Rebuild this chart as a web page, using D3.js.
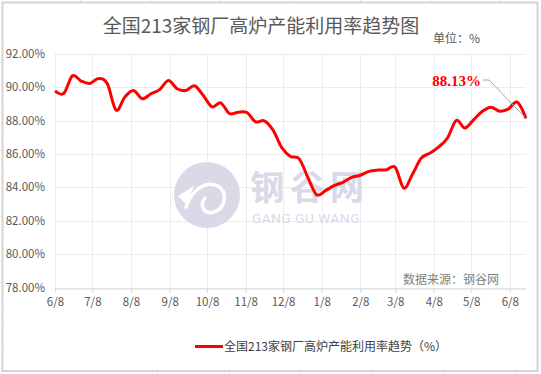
<!DOCTYPE html>
<html>
<head>
<meta charset="utf-8">
<script src="https://cdn.jsdelivr.net/npm/d3@7"></script>
<style>
  html, body { margin: 0; padding: 0; background: #fff; }
  svg { display: block; font-family: "Noto Sans CJK SC", "Noto Sans", sans-serif; }
</style>
</head>
<body>
<svg id="chart"></svg>
<script>
// weekly dates and utilization (%)
const weekDates = [
  "2022-06-08", "2022-06-15", "2022-06-22", "2022-06-29", "2022-07-06", "2022-07-13", "2022-07-20", "2022-07-27",
  "2022-08-03", "2022-08-10", "2022-08-17", "2022-08-24", "2022-08-31", "2022-09-07", "2022-09-14", "2022-09-21",
  "2022-09-28", "2022-10-05", "2022-10-12", "2022-10-19", "2022-10-26", "2022-11-02", "2022-11-09", "2022-11-16",
  "2022-11-23", "2022-11-30", "2022-12-07", "2022-12-14", "2022-12-21", "2022-12-28", "2023-01-04", "2023-01-11",
  "2023-01-18", "2023-01-25", "2023-02-01", "2023-02-08", "2023-02-15", "2023-02-22", "2023-03-01", "2023-03-08",
  "2023-03-15", "2023-03-22", "2023-03-29", "2023-04-05", "2023-04-12", "2023-04-19", "2023-04-26", "2023-05-03",
  "2023-05-10", "2023-05-17", "2023-05-24", "2023-05-31", "2023-06-07", "2023-06-14", "2023-06-21"
];

const utilization = [
  89.78, 89.62, 90.68, 90.36, 90.22, 90.52, 90.2, 88.62,
  89.4, 89.8, 89.3, 89.6, 89.85, 90.4, 89.9, 89.8,
  90.08, 89.5, 88.82, 89.06, 88.42, 88.5, 88.48, 87.92,
  87.98, 87.42, 86.38, 85.85, 85.7, 84.58, 83.55, 83.8,
  84.1, 84.3, 84.6, 84.72, 84.95, 85.03, 85.05, 85.2,
  83.95, 84.8, 85.75, 86.05, 86.42, 86.95, 88.0, 87.55,
  88.05, 88.55, 88.8, 88.55, 88.7, 89.1, 88.13
];

const monthTicks = [
  "2022-06-08", "2022-07-08", "2022-08-08", "2022-09-08", "2022-10-08", "2022-11-08", "2022-12-08",
  "2023-01-08", "2023-02-08", "2023-03-08", "2023-04-08", "2023-05-08", "2023-06-08"
];

const yTicks = [78, 80, 82, 84, 86, 88, 90, 92];

const chartTitle = "全国213家钢厂高炉产能利用率趋势图";
const seriesName = "全国213家钢厂高炉产能利用率趋势（%）";

const lineChart = (function () {
  const lc = {};

  lc.draw = function (svgId) {
    const width = 541, height = 374;
    const svg = d3.select(`#${svgId}`)
      .attr('width', width)
      .attr('height', height);

    const parse = d3.timeParse("%Y-%m-%d");
    const data = weekDates.map((d, i) => ({ date: parse(d), value: utilization[i] }));

    // spreadsheet cell lines peeking around the chart
    const cells = svg.append("g").attr("stroke", "#e3e3e3").attr("stroke-width", 1);
    [80, 150, 220, 290, 360, 430, 500].forEach(x =>
      cells.append("line").attr("x1", x + 0.5).attr("x2", x + 0.5).attr("y1", 0).attr("y2", 2));
    [157, 229, 300, 372, 444, 516].forEach(x =>
      cells.append("line").attr("x1", x + 0.5).attr("x2", x + 0.5).attr("y1", 372).attr("y2", 374));
    [40, 62, 84, 106, 128, 150, 172, 194, 216, 238, 260, 282, 304, 326, 348].forEach(y =>
      cells.append("line").attr("x1", 0).attr("x2", 1).attr("y1", y + 0.5).attr("y2", y + 0.5));

    // chart frame
    svg.append("rect")
      .attr("x", 2.5).attr("y", 2.5)
      .attr("width", 535).attr("height", 368.5)
      .attr("fill", "#fff")
      .attr("stroke", "#d4d4d4")
      .attr("stroke-width", 2);

    const xScale = d3.scaleTime()
      .domain(d3.extent(data, d => d.date))
      .range([55, 526]);

    const yScale = d3.scaleLinear()
      .domain([78, 92])
      .range([287.5, 53.7]);

    // grid
    const grid = svg.append("g").attr("stroke", "#ececec").attr("stroke-width", 1);
    yTicks.forEach(t => {
      const y = Math.round(yScale(t)) + 0.5;
      grid.append("line").attr("x1", 55).attr("x2", 526).attr("y1", y).attr("y2", y);
    });
    monthTicks.forEach(t => {
      const x = Math.round(xScale(parse(t))) + 0.5;
      grid.append("line").attr("x1", x).attr("x2", x).attr("y1", yScale(92)).attr("y2", yScale(78));
    });

    // watermark
    const wm = svg.append("g").attr("fill", "#d9d9e8");
    wm.append("circle").attr("cx", 207).attr("cy", 195).attr("r", 33);
    wm.append("path")
      .attr("fill", "none").attr("stroke", "#fff").attr("stroke-width", 3.5)
      .attr("stroke-linecap", "round")
      .attr("d", "M186,207 C192,190 205,180 218,186 C228,192 226,208 214,212 C204,215 199,205 205,198");
    wm.append("path")
      .attr("fill", "#fff")
      .attr("d", "M178,196 L194,186 L186,204 Z");
    wm.append("text")
      .attr("x", 250).attr("y", 200)
      .attr("font-size", 34).attr("font-weight", 700)
      .attr("letter-spacing", 6)
      .text("钢谷网");
    wm.append("text")
      .attr("x", 252).attr("y", 223)
      .attr("font-family", "Roboto, sans-serif")
      .attr("font-size", 13.5)
      .attr("letter-spacing", 0.6)
      .text("GANG GU WANG");

    // axes
    const xAxis = d3.axisBottom(xScale)
      .tickValues(monthTicks.map(parse))
      .tickFormat(d3.timeFormat("%-m/%-d"))
      .tickSize(4)
      .tickSizeOuter(0);

    const xAxisG = svg.append("g")
      .attr("transform", `translate(0, ${Math.round(yScale(78)) + 0.5})`)
      .call(xAxis);
    xAxisG.select(".domain").attr("stroke", "#d9d9d9");
    xAxisG.selectAll(".tick line").attr("stroke", "#d9d9d9");
    xAxisG.selectAll(".tick text")
      .attr("fill", "#595959")
      .attr("font-size", 11.5)
      .attr("font-family", "Noto Sans CJK SC")
      .attr("dy", "0.95em");

    const yAxis = d3.axisLeft(yScale)
      .tickValues(yTicks)
      .tickFormat(d => d.toFixed(2) + "%")
      .tickSize(0);

    const yAxisG = svg.append("g")
      .attr("transform", "translate(55, 0)")
      .call(yAxis);
    yAxisG.select(".domain").remove();
    yAxisG.selectAll(".tick text")
      .attr("x", -10)
      .attr("fill", "#595959")
      .attr("font-size", 11.5)
      .attr("font-family", "Noto Sans CJK SC");

    // the series
    const line = d3.line()
      .x(d => xScale(d.date))
      .y(d => yScale(d.value))
      .curve(d3.curveCardinal.tension(0));

    svg.append("path")
      .datum(data)
      .attr("fill", "none")
      .attr("stroke", "#ff0000")
      .attr("stroke-width", 3)
      .attr("stroke-linejoin", "round")
      .attr("d", line);

    // label on last point
    const last = data[data.length - 1];
    const lx = xScale(last.date), ly = yScale(last.value);
    svg.append("polyline")
      .attr("fill", "none")
      .attr("stroke", "#a6a6a6")
      .attr("stroke-width", 1)
      .attr("points", `483,80 489,80 ${lx - 1},${ly - 1}`);
    svg.append("text")
      .attr("x", 481).attr("y", 86)
      .attr("text-anchor", "end")
      .attr("fill", "#ff0000")
      .attr("font-family", "Liberation Serif, serif")
      .attr("font-weight", 700)
      .attr("font-size", 15)
      .text(last.value.toFixed(2) + "%");

    // titles and notes
    svg.append("text")
      .attr("x", 261).attr("y", 33)
      .attr("text-anchor", "middle")
      .attr("fill", "#595959")
      .attr("font-size", 19)
      .text(chartTitle);

    svg.append("text")
      .attr("x", 433).attr("y", 43)
      .attr("fill", "#595959")
      .attr("font-size", 12)
      .text("单位：%");

    svg.append("text")
      .attr("x", 403).attr("y", 284)
      .attr("fill", "#7f7f7f")
      .attr("font-size", 12)
      .text("数据来源：钢谷网");

    // legend
    const lg = svg.append("g");
    lg.append("line")
      .attr("x1", 195).attr("x2", 223)
      .attr("y1", 346.5).attr("y2", 346.5)
      .attr("stroke", "#ff0000").attr("stroke-width", 3);
    lg.append("text")
      .attr("x", 224).attr("y", 351)
      .attr("fill", "#404040")
      .attr("font-size", 12)
      .text(seriesName);

    return svg;
  };

  return lc;
})();

lineChart.draw("chart");
</script>
</body>
</html>
